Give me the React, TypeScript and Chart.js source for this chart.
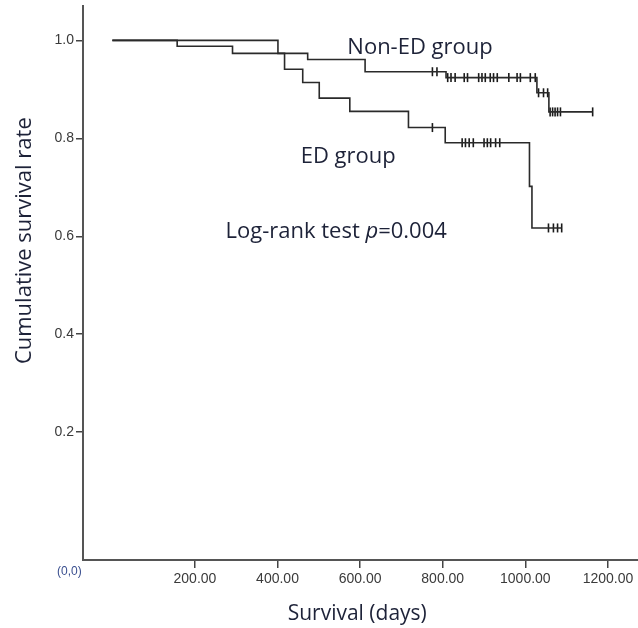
import React, { useEffect, useRef } from "react";
import { Chart, registerables } from "chart.js";

Chart.register(...registerables);

// Kaplan-Meier steps (time in days, cumulative survival)
const nonEdTimes = [0, 157, 291, 473, 612, 808, 1028, 1057, 1163];
const nonEdSurv = [1.0, 0.988, 0.9735, 0.961, 0.936, 0.924, 0.893, 0.854, 0.854];
const nonEdCensored = [
  775, 786, 812, 820, 830, 852, 860, 887, 895, 903, 915, 923, 932, 960, 980, 988,
  1012, 1024, 1032, 1044, 1054, 1060, 1066, 1072, 1078, 1085, 1163,
];

const edTimes = [0, 401, 417, 461, 501, 575, 717, 806, 1010, 1016, 1088];
const edSurv = [1.0, 0.9735, 0.941, 0.914, 0.882, 0.855, 0.822, 0.791, 0.702, 0.617, 0.617];
const edCensored = [775, 847, 855, 864, 874, 900, 908, 916, 928, 938, 1056, 1068, 1078, 1088];

const yTickValues = [0.2, 0.4, 0.6, 0.8, 1.0];
const xTickValues = [200, 400, 600, 800, 1000, 1200];

const groupLabels = ["Non-ED group", "ED group"];
const testLabelParts = ["Log-rank test ", "p", "=0.004"];
const xTitle = "Survival (days)";
const yTitle = "Cumulative survival rate";
const originLabel = "(0,0)";

function survAt(times: number[], surv: number[], t: number): number {
  let s = surv[0];
  for (let i = 0; i < times.length; i++) {
    if (times[i] <= t) s = surv[i];
  }
  return s;
}

const TEXT_COLOR = "#1d2238";
const LABEL_FONT = "'Open Sans', 'Noto Sans', sans-serif";
const TICK_FONT = "'Liberation Sans', Arial, sans-serif";

const textPlugin = {
  id: "kmText",
  afterDraw(chart: any) {
    const { ctx, scales } = chart;
    const x = scales.x;
    const y = scales.y;
    ctx.save();
    ctx.fillStyle = TEXT_COLOR;
    ctx.textBaseline = "alphabetic";
    ctx.textAlign = "left";
    ctx.font = `22px ${LABEL_FONT}`;
    ctx.fillText(groupLabels[0], x.getPixelForValue(569), y.getPixelForValue(0.972));
    ctx.fillText(groupLabels[1], x.getPixelForValue(456), y.getPixelForValue(0.75));

    // Log-rank text with italic p
    let px = x.getPixelForValue(274);
    const py = y.getPixelForValue(0.597);
    ctx.font = `22px ${LABEL_FONT}`;
    ctx.fillText(testLabelParts[0], px, py);
    px += ctx.measureText(testLabelParts[0]).width;
    ctx.font = `italic 22px ${LABEL_FONT}`;
    ctx.fillText(testLabelParts[1], px, py);
    px += ctx.measureText(testLabelParts[1]).width;
    ctx.font = `22px ${LABEL_FONT}`;
    ctx.fillText(testLabelParts[2], px, py);

    // X title
    ctx.textAlign = "center";
    ctx.font = `21px ${LABEL_FONT}`;
    ctx.fillText(xTitle, x.getPixelForValue(593), 620);

    // Y title
    ctx.save();
    ctx.translate(31, y.getPixelForValue(0.591));
    ctx.rotate(-Math.PI / 2);
    ctx.textBaseline = "alphabetic";
    ctx.font = `22px ${LABEL_FONT}`;
    ctx.fillText(yTitle, 0, 0);
    ctx.restore();

    // origin label
    ctx.textAlign = "left";
    ctx.textBaseline = "middle";
    ctx.fillStyle = "#3a4f8f";
    ctx.font = `12px ${TICK_FONT}`;
    ctx.fillText(originLabel, 57, 572);
    ctx.restore();
  },
};

export default function App() {
  const canvasRef = useRef<HTMLCanvasElement | null>(null);

  useEffect(() => {
    const canvas = canvasRef.current;
    if (!canvas) return;
    const nonEdLine = nonEdTimes.map((t, i) => ({ x: t, y: nonEdSurv[i] }));
    const edLine = edTimes.map((t, i) => ({ x: t, y: edSurv[i] }));
    const nonEdMarks = nonEdCensored.map((t) => ({ x: t, y: survAt(nonEdTimes, nonEdSurv, t) }));
    const edMarks = edCensored.map((t) => ({ x: t, y: survAt(edTimes, edSurv, t) }));

    const lineStyle = {
      type: "line" as const,
      stepped: "before" as const,
      borderColor: "#2a2a2a",
      borderWidth: 1.6,
      pointRadius: 0,
      fill: false,
    };
    const markStyle = {
      type: "scatter" as const,
      pointStyle: "line" as const,
      rotation: 90,
      pointRadius: 4.5,
      borderColor: "#1a1a1a",
      borderWidth: 1.6,
      backgroundColor: "#1a1a1a",
    };

    const chart = new Chart(canvas, {
      type: "line",
      data: {
        datasets: [
          { ...lineStyle, label: groupLabels[0], data: nonEdLine },
          { ...lineStyle, label: groupLabels[1], data: edLine },
          { ...markStyle, label: groupLabels[0] + " censored", data: nonEdMarks },
          { ...markStyle, label: groupLabels[1] + " censored", data: edMarks },
        ] as any,
      },
      options: {
        animation: false,
        responsive: false,
        devicePixelRatio: 1,
        layout: { padding: { top: 5, left: 0, right: 0, bottom: 0 } },
        plugins: { legend: { display: false }, tooltip: { enabled: false } },
        scales: {
          x: {
            type: "linear",
            min: -71,
            max: 1350,
            afterBuildTicks: (scale: any) => {
              scale.ticks = xTickValues.map((v) => ({ value: v }));
            },
            afterFit: (scale: any) => {
              scale.height = 68;
              scale.paddingLeft = 0;
              scale.paddingRight = 0;
            },
            ticks: {
              autoSkip: false,
              maxRotation: 0,
              padding: 3,
              color: "#3a3a3a",
              font: { family: TICK_FONT, size: 14 },
              callback: (v: any) => Number(v).toFixed(2),
            },
            grid: {
              display: true,
              drawOnChartArea: false,
              drawTicks: true,
              tickLength: 8,
              color: "#444",
              lineWidth: 1.5,
            },
            border: { display: true, color: "#555", width: 2 },
          },
          y: {
            type: "linear",
            min: -0.061,
            max: 1.07,
            afterBuildTicks: (scale: any) => {
              scale.ticks = yTickValues.map((v) => ({ value: v }));
            },
            afterFit: (scale: any) => {
              scale.width = 83;
              scale.paddingTop = 0;
              scale.paddingBottom = 0;
            },
            ticks: {
              autoSkip: false,
              padding: 2,
              color: "#3a3a3a",
              font: { family: TICK_FONT, size: 14 },
              callback: (v: any) => Number(v).toFixed(1),
            },
            grid: {
              display: true,
              drawOnChartArea: false,
              drawTicks: true,
              tickLength: 7,
              color: "#444",
              lineWidth: 1.5,
            },
            border: { display: true, color: "#555", width: 2 },
          },
        },
      } as any,
      plugins: [textPlugin],
    });
    return () => chart.destroy();
  }, []);

  return (
    <div
      style={{
        position: "fixed",
        left: 0,
        top: 0,
        width: 638,
        height: 628,
        overflow: "hidden",
        background: "#fff",
      }}
    >
      <canvas ref={canvasRef} width={676} height={628} style={{ width: 676, height: 628, display: "block" }} />
    </div>
  );
}
